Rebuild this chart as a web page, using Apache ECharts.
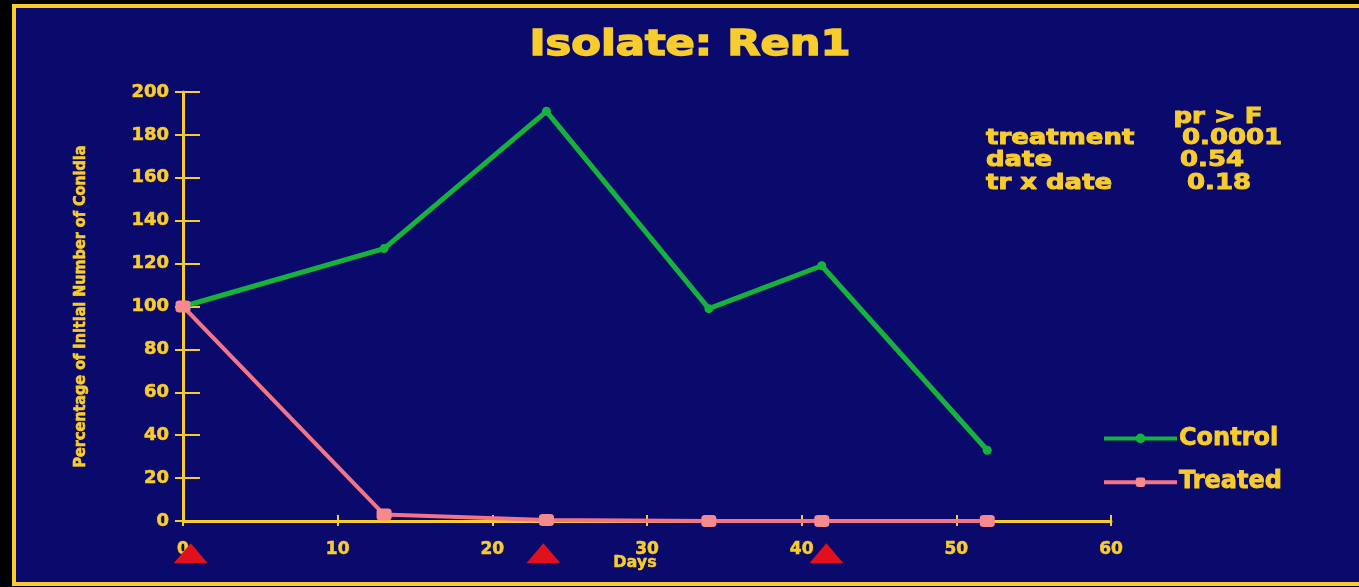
<!DOCTYPE html>
<html>
<head>
<meta charset="utf-8">
<script src="https://cdn.jsdelivr.net/npm/echarts@6/dist/echarts.min.js"></script>
<style>
html,body{margin:0;padding:0;background:#000;}
#c{width:1359px;height:587px;}
</style>
</head>
<body>
<div id="c"></div>
<script>
const days = [0, 13, 23.5, 34, 41.3, 52];
const control = [100, 127, 191, 99, 119, 33];
const treated = [100, 3, 0.5, 0, 0, 0];
const treatmentDays = [0.5, 23.3, 41.6];
const yTicks = [0, 20, 40, 60, 80, 100, 120, 140, 160, 180, 200];
const xTicks = [0, 10, 20, 30, 40, 50, 60];
const statsRows = [["treatment", "0.0001"], ["date", "0.54"], ["tr x date", "0.18"]];

const YEL = '#f8cc2c';
const BG = '#0a0a6c';
const GREEN = '#16b23c';
const PINK = '#f27486';
const FONT = '"DejaVu Sans", sans-serif';

const chart = echarts.init(document.getElementById('c'), null, {renderer: 'canvas'});

const txt = (text, x, y, size, sx, align, bw) => ({
  type: 'text', x: x, y: y, scaleX: sx, z: 10,
  style: {text: text, font: 'bold ' + size + 'px ' + FONT, fill: YEL, textAlign: align, textVerticalAlign: 'middle',
    stroke: YEL, lineWidth: bw}
});

const statGraphics = [txt('pr > F', 1218, 117, 22, 1.18, 'center', 1)];
const rowY = [138, 160, 183];
const valX = [1182, 1180, 1187];
statsRows.forEach((r, i) => {
  statGraphics.push(txt(r[0], 986, rowY[i], 22, 1.18, 'left', 1));
  statGraphics.push(txt(r[1], valX[i], rowY[i], 22, 1.18, 'left', 1));
});

const option = {
  backgroundColor: '#000',
  animation: false,
  graphic: [
    {type: 'rect', shape: {x: 14, y: 6, width: 1400, height: 578}, z: -10,
      style: {fill: BG, stroke: YEL, lineWidth: 4}},
    txt('Isolate: Ren1', 690, 46, 36, 1.2, 'center', 1.5)
  ].concat(statGraphics),
  legend: {
    orient: 'vertical',
    left: 1102,
    top: 426,
    padding: 0,
    itemWidth: 73,
    itemHeight: 12,
    itemGap: 19,
    data: ['Control', 'Treated'],
    lineStyle: {width: 4},
    textStyle: {color: YEL, fontFamily: FONT, fontWeight: 'bold', fontSize: 24, lineHeight: 24,
      padding: [0, 0, 0, -3], textBorderColor: YEL, textBorderWidth: 0.8}
  },
  grid: {left: 183, right: 248, top: 92, bottom: 66, containLabel: false},
  xAxis: [{
    type: 'value', min: 0, max: 60, interval: 10,
    name: 'Days', nameLocation: 'middle', nameGap: 34, nameMoveOverlap: false,
    nameTextStyle: {color: YEL, fontFamily: FONT, fontWeight: 'bold', fontSize: 16, padding: [0, 24, 0, 0],
      textBorderColor: YEL, textBorderWidth: 0.5},
    axisLine: {lineStyle: {color: YEL, width: 3}},
    axisTick: {show: true, inside: true, length: 6, lineStyle: {color: YEL, width: 2}},
    axisLabel: {color: YEL, fontFamily: FONT, fontWeight: 'bold', fontSize: 17, margin: 20,
      textBorderColor: YEL, textBorderWidth: 0.6,
      formatter: v => xTicks.indexOf(v) >= 0 ? String(v) : ''},
    splitLine: {show: false}
  }, {
    type: 'value', min: 0, max: 60, interval: 10, position: 'bottom',
    axisLine: {show: false},
    axisTick: {show: true, inside: false, length: 5, lineStyle: {color: YEL, width: 2}},
    axisLabel: {show: false}, splitLine: {show: false}
  }],
  yAxis: [{
    type: 'value', min: 0, max: 200, interval: 20,
    name: 'Percentage of Initial Number of Conidia', nameLocation: 'middle', nameGap: 94, nameRotate: 90,
    nameTextStyle: {color: YEL, fontFamily: '"Liberation Sans Narrow", "DejaVu Sans Condensed", sans-serif', fontWeight: 'bold', fontSize: 16,
      textBorderColor: YEL, textBorderWidth: 0.6},
    axisLine: {lineStyle: {color: YEL, width: 3}},
    axisTick: {show: true, inside: true, length: 17, lineStyle: {color: YEL, width: 2}},
    axisLabel: {color: YEL, fontFamily: FONT, fontWeight: 'bold', fontSize: 18, margin: 14,
      textBorderColor: YEL, textBorderWidth: 0.6,
      formatter: v => yTicks.indexOf(v) >= 0 ? String(v) : ''},
    splitLine: {show: false}
  }, {
    type: 'value', min: 0, max: 200, interval: 20, position: 'left',
    axisLine: {show: false},
    axisTick: {show: true, inside: false, length: 8, lineStyle: {color: YEL, width: 2}},
    axisLabel: {show: false}, splitLine: {show: false}
  }],
  series: [
    {
      name: 'Control', type: 'line', clip: false,
      data: days.map((d, i) => [d, control[i]]),
      symbol: 'circle', symbolSize: 9,
      lineStyle: {color: GREEN, width: 5},
      itemStyle: {color: GREEN},
      z: 3
    },
    {
      name: 'Treated', type: 'line', clip: false,
      data: days.map((d, i) => [d, treated[i]]),
      symbol: 'roundRect', symbolSize: [15, 12],
      lineStyle: {color: PINK, width: 4},
      itemStyle: {color: '#f58a8e'},
      z: 4
    },
    {
      name: 'applications', type: 'scatter', clip: false,
      data: treatmentDays.map(d => [d, -15]),
      symbol: 'triangle', symbolSize: [34, 20],
      itemStyle: {color: '#e0101c', opacity: 1},
      silent: true, z: 5
    }
  ]
};
chart.setOption(option);
</script>
</body>
</html>
